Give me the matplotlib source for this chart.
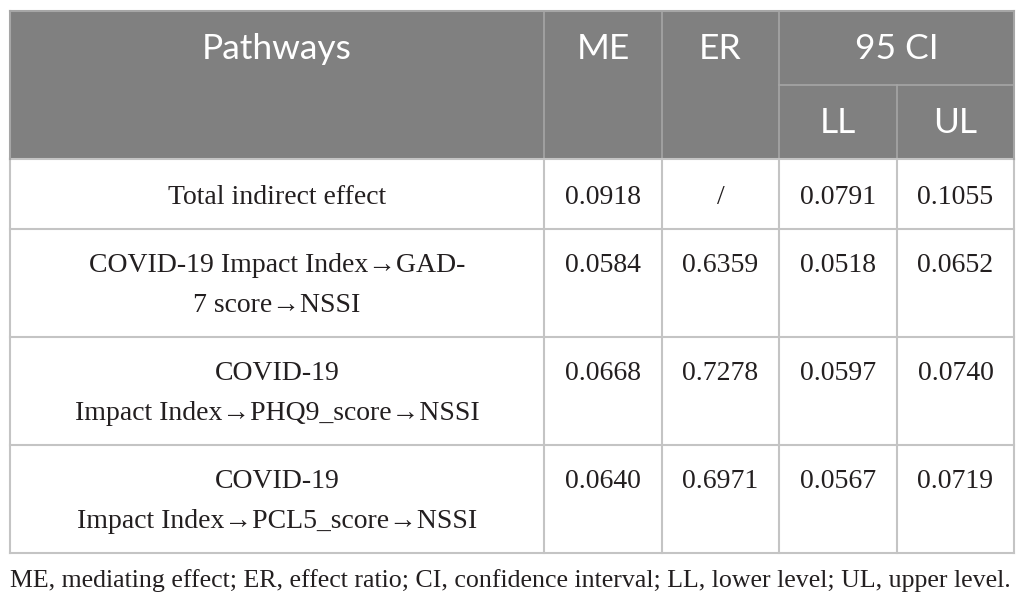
import matplotlib
matplotlib.use("Agg")
import matplotlib.pyplot as plt
from matplotlib.patches import Rectangle

# table content
pathways = [
    "Total indirect effect",
    "COVID-19 Impact Index\u2192GAD-\n7 score\u2192NSSI",
    "COVID-19\nImpact Index\u2192PHQ9_score\u2192NSSI",
    "COVID-19\nImpact Index\u2192PCL5_score\u2192NSSI",
]
me = ["0.0918", "0.0584", "0.0668", "0.0640"]
er = ["/", "0.6359", "0.7278", "0.6971"]
ll = ["0.0791", "0.0518", "0.0597", "0.0567"]
ul = ["0.1055", "0.0652", "0.0740", "0.0719"]
header_top = ["Pathways", "ME", "ER", "95 CI"]
header_sub = ["LL", "UL"]
footnote = "ME, mediating effect; ER, effect ratio; CI, confidence interval; LL, lower level; UL, upper level."

# layout in pixels
W, H = 1025, 607
col_x = [10, 544, 662, 779, 897, 1014]
head_y = [11, 85, 159]
row_y = [159, 229, 337, 445, 553]

HEAD_BG = "#808080"
HEAD_LINE = "#a6a6a6"
GRID = "#c4c4c4"
TXT = "#231f20"
sans = ["Lato", "DejaVu Sans"]
serif = ["Liberation Serif", "DejaVu Serif"]

fig = plt.figure(figsize=(W / 100, H / 100), dpi=100)
ax = fig.add_axes([0, 0, 1, 1])
ax.set_xlim(0, W)
ax.set_ylim(H, 0)
ax.axis("off")

# header block
ax.add_patch(Rectangle((col_x[0], head_y[0]), col_x[-1] - col_x[0], head_y[2] - head_y[0],
                       facecolor=HEAD_BG, edgecolor="none"))
for x in col_x[1:4]:
    ax.plot([x, x], [head_y[0], head_y[2]], color=HEAD_LINE, lw=1.2)
ax.plot([col_x[4], col_x[4]], [head_y[1], head_y[2]], color=HEAD_LINE, lw=1.2)
ax.plot([col_x[3], col_x[5]], [head_y[1], head_y[1]], color=HEAD_LINE, lw=1.2)
ax.plot([col_x[0], col_x[5]], [head_y[0], head_y[0]], color=HEAD_LINE, lw=1.5)

hdr_y = 49
hdr_size = 25.5
for i, lab in enumerate(header_top[:3]):
    ax.text((col_x[i] + col_x[i + 1]) / 2, hdr_y, lab, ha="center", va="center",
            color="white", fontsize=hdr_size, family=sans)
ax.text((col_x[3] + col_x[5]) / 2, hdr_y, header_top[3], ha="center", va="center",
        color="white", fontsize=hdr_size, family=sans)
for j, lab in enumerate(header_sub):
    ax.text((col_x[3 + j] + col_x[4 + j]) / 2, 123, lab, ha="center", va="center",
            color="white", fontsize=hdr_size, family=sans)

# body grid
for y in row_y:
    ax.plot([col_x[0], col_x[-1]], [y, y], color=GRID, lw=1.5)
for x in col_x:
    ax.plot([x, x], [row_y[0], row_y[-1]], color=GRID, lw=1.5)
for x in (col_x[0], col_x[-1]):
    ax.plot([x, x], [head_y[0], head_y[2]], color=HEAD_LINE, lw=1.5)

# body text
line_h = 40
body_size = 20
for r, lab in enumerate(pathways):
    n = lab.count("\n") + 1
    top = row_y[r]
    bottom = row_y[r + 1]
    mid = (top + bottom) / 2 + 3
    first = mid - (n - 1) * line_h / 2
    for k, part in enumerate(lab.split("\n")):
        ax.text((col_x[0] + col_x[1]) / 2, first + k * line_h, part, ha="center", va="center",
                color=TXT, fontsize=body_size, family=serif)
    vals = [me[r], er[r], ll[r], ul[r]]
    for c, v in enumerate(vals):
        ax.text((col_x[1 + c] + col_x[2 + c]) / 2, first, v, ha="center", va="center",
                color=TXT, fontsize=body_size, family=serif)

ax.text(col_x[0], 581, footnote, ha="left", va="center", color=TXT,
        fontsize=18.6, family=serif)

fig.savefig("out.png", dpi=100)
